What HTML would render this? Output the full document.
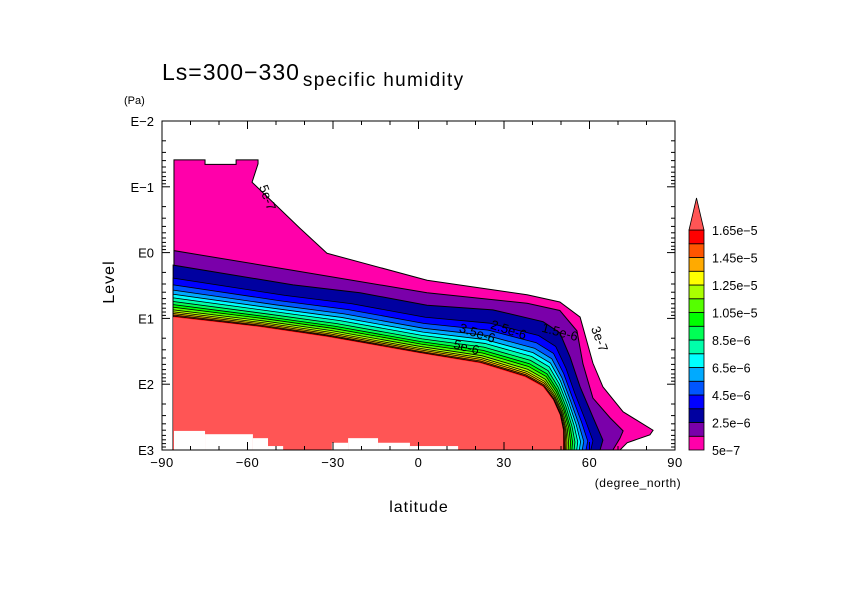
<!DOCTYPE html>
<html><head><meta charset="utf-8"><style>
body{margin:0;background:#fff}
svg text{font-family:"Liberation Sans","DejaVu Sans",sans-serif;fill:#000}
</style></head><body>
<svg id="chart" width="842" height="595" viewBox="0 0 842 595" xmlns="http://www.w3.org/2000/svg">
<rect width="842" height="595" fill="#fff"/>
<g id="fills"></g>
<g id="axes"></g>
<g id="cbar"></g>
<text x="162" y="80" font-size="23" letter-spacing="1">Ls=300−330<tspan font-size="19" dy="6" dx="3" letter-spacing="1.3">specific humidity</tspan></text>
<text x="124" y="104" font-size="11">(Pa)</text>
<text x="114" y="282" font-size="16" letter-spacing="1" transform="rotate(-90 114 282)" text-anchor="middle">Level</text>
<text x="419" y="512" font-size="16" letter-spacing="1" text-anchor="middle">latitude</text>
<text x="638" y="487" font-size="12" letter-spacing="0.5" text-anchor="middle">(degree_north)</text>
</svg>
<script>
// data: lat (deg north), log10 pressure (Pa)
const magentaLat=[-85.8,-74.9,-74.9,-64,-64,-56.3,-56.3,-58.4,-41.6,-32.1,3.0,38.1,49.6,56.7,61.2,64.7,71.8,82.3,81.2,73.2,70.7];
const magentaLp=[-1.41,-1.41,-1.34,-1.34,-1.41,-1.41,-1.35,-1.07,-0.37,0.01,0.42,0.64,0.75,0.98,1.68,2.04,2.42,2.70,2.77,2.89,3.0];
const purpleLat=[-85.8,-44.0,3.0,38.1,49.6,55.6,57.7,61.2,67.2,71.8,70.7,68.2];
const purpleLp=[-0.03,0.27,0.61,0.77,0.88,1.19,1.69,2.21,2.51,2.71,2.82,3.0];
const darkBlueLat=[-86.1,-44.0,-20.5,3.0,26.1,43.7,49.6,53.2,56.7,61.2,64.7,63.7];
const darkBlueLp=[0.19,0.49,0.61,0.80,0.87,1.05,1.22,1.59,2.04,2.50,2.85,3.0];
const salmonLat=[-86.1,-55.6,-32.1,0.5,21.6,37.4,43.7,47.2,49.6,50.7,50.7,50.7];
const salmonLp=[0.98,1.13,1.28,1.53,1.68,1.89,2.04,2.24,2.47,2.70,2.89,3.0];
const bandFrac=[0.25,0.38,0.48,0.56,0.63,0.70,0.76,0.81,0.86,0.90,0.93,0.96,0.98];
const maskLat0=[-85.8,-74.9,-58.1,-52.8,-47.5,-30.4,-24.7,-14.2,-3.0,13.9];
const maskLat1=[-74.9,-58.1,-52.8,-47.5,-30.4,-24.7,-14.2,-3.0,13.9,43.7];
const maskLp=[2.71,2.76,2.82,2.94,3.0,2.89,2.82,2.89,2.94,3.0];
const xTicks=[-90,-60,-30,0,30,60,90];
const yTicks=[-2,-1,0,1,2,3];
const yTickLabels=["E−2","E−1","E0","E1","E2","E3"];
const cbarColors=["#ff00aa","#7a00aa","#0000a0","#0000ff","#0055ff","#00aaff","#00ffff","#00ffaa","#00ff55","#00ff00","#55ff00","#aaff00","#ffff00","#ffaa00","#ff5500","#ff0000"];
const cbarLabels=["5e-7","2.5e-6","4.5e-6","6.5e-6","8.5e-6","1.05e-5","1.25e-5","1.45e-5","1.65e-5"];
const overColor="#ff5555";

const X0=162,X1=675,Y0=121,Y1=450;
const x=lat=>X0+(lat+90)*(X1-X0)/180;
const y=lp=>Y0+(lp+2)*(Y1-Y0)/5;
const NS="http://www.w3.org/2000/svg";
function mk(tag,attrs,parent){const e=document.createElementNS(NS,tag);for(const k in attrs)e.setAttribute(k,attrs[k]);parent.appendChild(e);return e;}
const fills=document.getElementById('fills'),axes=document.getElementById('axes'),cb=document.getElementById('cbar');

function regionPath(lat,lp){
  let d=`M${x(lat[0])},${y(3)}`;
  for(let i=0;i<lat.length;i++)d+=`L${x(lat[i])},${y(lp[i])}`;
  d+=`L${x(lat[lat.length-1])},${y(3)}Z`;return d;
}

let p=mk('path',{d:regionPath(magentaLat,magentaLp),fill:cbarColors[0],stroke:'#000','stroke-width':1},fills);

p=mk('path',{d:regionPath(purpleLat,purpleLp),fill:cbarColors[1],stroke:'#000','stroke-width':1},fills);

p=mk('path',{d:regionPath(darkBlueLat,darkBlueLp),fill:cbarColors[2],stroke:'#000','stroke-width':1},fills);

bandFrac.forEach((f,i)=>{
  const la=[],lq=[];
  for(let k=0;k<darkBlueLat.length;k++){la.push(darkBlueLat[k]+(salmonLat[k]-darkBlueLat[k])*f);lq.push(darkBlueLp[k]+(salmonLp[k]-darkBlueLp[k])*f);}
  const e=mk('path',{d:regionPath(la,lq),fill:cbarColors[i+3],stroke:'#000','stroke-width':0.8},fills);
  
  
});
p=mk('path',{d:regionPath(salmonLat,salmonLp),fill:overColor,stroke:'none'},fills);

maskLat0.forEach((l0,i)=>{
  const r=mk('rect',{x:x(l0),y:y(maskLp[i]),width:x(maskLat1[i])-x(l0),height:y(3)-y(maskLp[i])+1,fill:'#fff'},fills);
  
  
});
[["5e-7",x(-56),y(-1.0),70],["1.5e-6",x(43),y(1.2),15],["3e-7",x(60.5),y(1.15),70],["3.5e-6",x(14),y(1.2),18],["2.5e-6",x(25),y(1.15),18],["5e-6",x(12),y(1.45),15]].forEach(c=>{
  const t=mk('text',{x:c[1],y:c[2],'font-size':13,transform:`rotate(${c[3]} ${c[1]} ${c[2]})`},fills);t.textContent=c[0];
  
  
});
let fr=mk('rect',{x:X0,y:Y0,width:X1-X0,height:Y1-Y0,fill:'none',stroke:'#000','stroke-width':1},axes);

for(let lat=-90;lat<=90;lat+=10){const major=lat%30===0;const L=major?8:4;
  mk('line',{x1:x(lat),x2:x(lat),y1:Y1,y2:Y1-L,stroke:'#000'},axes);
  mk('line',{x1:x(lat),x2:x(lat),y1:Y0,y2:Y0+L,stroke:'#000'},axes);}
xTicks.forEach(v=>{const t=mk('text',{x:x(v),y:Y1+17,'font-size':13,'letter-spacing':0.5,'text-anchor':'middle'},axes);t.textContent=v<0?'−'+(-v):v;
  });
for(let d=-2;d<3;d++)for(let m=1;m<10;m++){const lp=d+Math.log10(m);const L=m===1?8:4;
  mk('line',{x1:X0,x2:X0+L,y1:y(lp),y2:y(lp),stroke:'#000'},axes);
  mk('line',{x1:X1,x2:X1-L,y1:y(lp),y2:y(lp),stroke:'#000'},axes);}
yTicks.forEach((v,i)=>{const t=mk('text',{x:X0-8,y:y(v)+5,'font-size':13,'text-anchor':'end'},axes);t.textContent=yTickLabels[i];
  });
const CX=689,CW=15,CT=230,CB=450,bh=(CB-CT)/cbarColors.length;
cbarColors.forEach((c,i)=>{const r=mk('rect',{x:CX,y:CB-(i+1)*bh,width:CW,height:bh,fill:c,stroke:'#000','stroke-width':0.8},cb);
  });
let tri=mk('path',{d:`M${CX},${CT}L${CX+CW/2},${CT-32}L${CX+CW},${CT}Z`,fill:overColor,stroke:'#000','stroke-width':0.8},cb);

cbarLabels.forEach((s,i)=>{const t=mk('text',{x:CX+CW+8,y:CB-i*2*bh+5,'font-size':12.5},cb);t.textContent=s.replace(/-/g,'−');
  });
</script>
</body></html>
